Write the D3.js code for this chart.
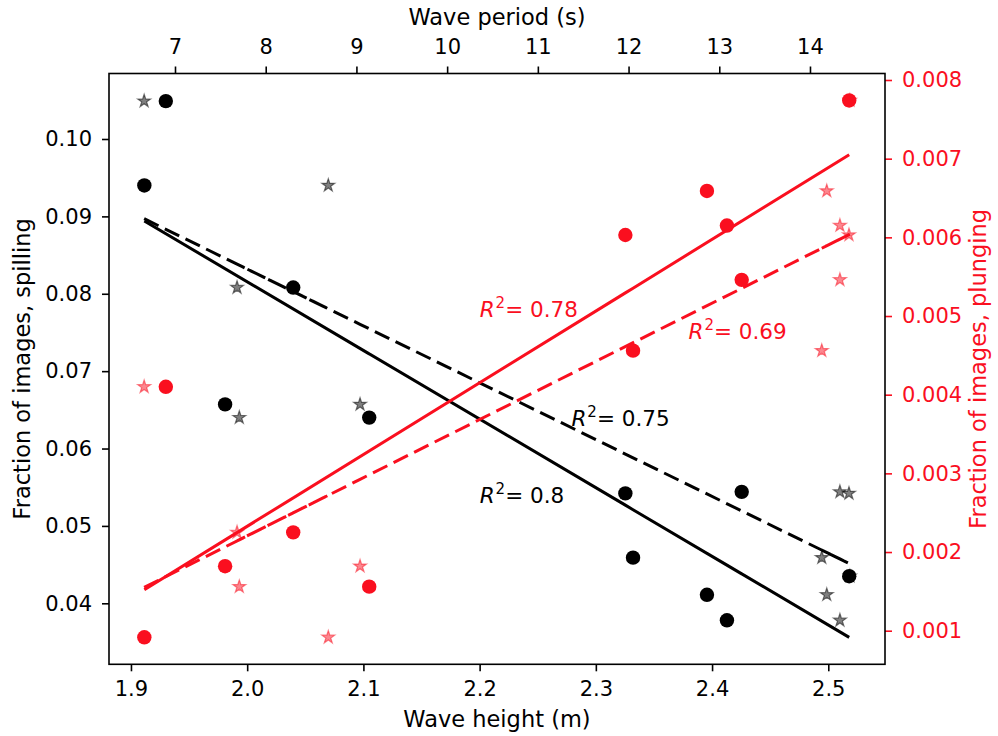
<!DOCTYPE html>
<html>
<head>
<meta charset="utf-8">
<script src="https://cdn.jsdelivr.net/npm/d3@7"></script>
<style>
  html, body { margin: 0; padding: 0; background: #fff; }
  svg { display: block; font-family: "DejaVu Sans", sans-serif; }
</style>
</head>
<body>
<svg id="chart" width="998" height="736"></svg>
<script>
// ---- data (one record per observation, original order) ----
const waveHeight = [1.930, 1.9115, 2.0396, 2.105, 1.981, 2.3254, 2.332, 2.4255, 2.3956, 2.4128, 2.518];
const wavePeriod = [6.66, 8.69, 7.684, 7.709, 9.04, 14.43, 14.13, 14.33, 14.185, 14.33, 14.44];
const fracSpilling = [0.1049, 0.0940, 0.0808, 0.0640, 0.0657, 0.0542, 0.0459, 0.0544, 0.0411, 0.0378, 0.0435];
const fracPlunging = [0.00410, 0.000916, 0.00225, 0.00156, 0.00182, 0.00603, 0.00456, 0.00546, 0.00659, 0.00615, 0.00774];

// linear fits (end points)
const fitHeightX = [1.9115, 2.518];
const fitSpillVsHeight = [0.0894, 0.0356];
const fitPlungeVsHeight = [0.00152, 0.00705];
const fitPeriodX = [6.66, 14.44];
const fitSpillVsPeriod = [0.0897, 0.0451];
const fitPlungeVsPeriod = [0.00155, 0.00604];

const r2Values = ["0.8", "0.75", "0.78", "0.69"];

// tick labels
const heightTicks = [1.9, 2.0, 2.1, 2.2, 2.3, 2.4, 2.5];
const periodTicks = [7, 8, 9, 10, 11, 12, 13, 14];
const spillTicks = [0.04, 0.05, 0.06, 0.07, 0.08, 0.09, 0.10];
const plungeTicks = [0.001, 0.002, 0.003, 0.004, 0.005, 0.006, 0.007, 0.008];

// ---- layout ----
const L = 109, R = 885, T = 73.5, B = 664.3;
const RED = "#fa0f1f";
const svg = d3.select("#chart");

const xH = d3.scaleLinear().domain([1.8811, 2.5488]).range([L, R]);
const xT = d3.scaleLinear().domain([6.2724, 14.827]).range([L, R]);
const yS = d3.scaleLinear().domain([0.032117, 0.108464]).range([B, T]);
const yP = d3.scaleLinear().domain([0.000573, 0.0080826]).range([B, T]);

const idx = d3.range(waveHeight.length);

// ---- axes ----
function styleAxis(g, color) {
  g.select(".domain").remove();
  g.selectAll(".tick line").attr("stroke", color).attr("stroke-width", 1.6);
  g.selectAll(".tick text").attr("fill", color).attr("font-size", 21)
    .attr("font-family", "DejaVu Sans, sans-serif");
}
svg.append("g").attr("transform", `translate(0,${B})`)
  .call(d3.axisBottom(xH).tickValues(heightTicks).tickFormat(d3.format(".1f")).tickSize(7).tickPadding(10))
  .call(g => styleAxis(g, "#000"));
svg.append("g").attr("transform", `translate(0,${T})`)
  .call(d3.axisTop(xT).tickValues(periodTicks).tickFormat(d3.format("d")).tickSize(7).tickPadding(13))
  .call(g => styleAxis(g, "#000"));
svg.append("g").attr("transform", `translate(${L},0)`)
  .call(d3.axisLeft(yS).tickValues(spillTicks).tickFormat(d3.format(".2f")).tickSize(7).tickPadding(10))
  .call(g => styleAxis(g, "#000"));
svg.append("g").attr("transform", `translate(${R},0)`)
  .call(d3.axisRight(yP).tickValues(plungeTicks).tickFormat(d3.format(".3f")).tickSize(7).tickPadding(10))
  .call(g => styleAxis(g, RED));

// ---- fit lines (drawn through observations in their order) ----
function fitLine(xs, xScale, fitX, fitY, yScale, color, dashed) {
  const f = d3.scaleLinear().domain(fitX).range(fitY);
  const line = d3.line().x(i => xScale(xs[i])).y(i => yScale(f(xs[i])));
  svg.append("path").attr("d", line(idx)).attr("fill", "none")
    .attr("stroke", color).attr("stroke-width", 3)
    .attr("stroke-dasharray", dashed ? "16,7" : null);
}
fitLine(waveHeight, xH, fitHeightX, fitSpillVsHeight, yS, "#000", false);
fitLine(wavePeriod, xT, fitPeriodX, fitSpillVsPeriod, yS, "#000", true);
fitLine(waveHeight, xH, fitHeightX, fitPlungeVsHeight, yP, RED, false);
fitLine(wavePeriod, xT, fitPeriodX, fitPlungeVsPeriod, yP, RED, true);

// ---- stars (vs wave period) ----
const star = d3.symbol().type(d3.symbolStar).size(52);
svg.append("g").selectAll("path").data(idx).join("path")
  .attr("d", star).attr("transform", i => `translate(${xT(wavePeriod[i])},${yS(fracSpilling[i])})`)
  .attr("fill", "#000").attr("fill-opacity", 0.5)
  .attr("stroke", "#000").attr("stroke-opacity", 0.5).attr("stroke-width", 1.2);
svg.append("g").selectAll("path").data(idx).join("path")
  .attr("d", star).attr("transform", i => `translate(${xT(wavePeriod[i])},${yP(fracPlunging[i])})`)
  .attr("fill", RED).attr("fill-opacity", 0.5)
  .attr("stroke", RED).attr("stroke-opacity", 0.5).attr("stroke-width", 1.2);

// ---- circles (vs wave height) ----
svg.append("g").selectAll("circle").data(idx).join("circle")
  .attr("cx", i => xH(waveHeight[i])).attr("cy", i => yS(fracSpilling[i])).attr("r", 7.2)
  .attr("fill", "#000");
svg.append("g").selectAll("circle").data(idx).join("circle")
  .attr("cx", i => xH(waveHeight[i])).attr("cy", i => yP(fracPlunging[i])).attr("r", 7.2)
  .attr("fill", RED);

// ---- R^2 annotations ----
const annotations = [
  { v: r2Values[0], x: xH(2.2),   y: yS(0.0530),  color: "#000" },
  { v: r2Values[1], x: xT(11.37), y: yS(0.0629),  color: "#000" },
  { v: r2Values[2], x: xH(2.2),   y: yP(0.00499), color: RED },
  { v: r2Values[3], x: xT(12.66), y: yP(0.00471), color: RED }
];
annotations.forEach(a => {
  const t = svg.append("text").attr("x", a.x).attr("y", a.y)
    .attr("fill", a.color).attr("font-size", 21.5);
  t.append("tspan").attr("font-style", "italic").text("R");
  t.append("tspan").attr("font-size", 15).attr("dy", -9).attr("dx", 1).text("2");
  t.append("tspan").attr("dy", 9).text("= " + a.v);
});

// ---- frame ----
svg.append("rect").attr("x", L).attr("y", T).attr("width", R - L).attr("height", B - T)
  .attr("fill", "none").attr("stroke", "#000").attr("stroke-width", 1.6);

// ---- axis titles ----
svg.append("text").attr("x", (L + R) / 2).attr("y", 727).attr("text-anchor", "middle")
  .attr("font-size", 22.5).text("Wave height (m)");
svg.append("text").attr("x", (L + R) / 2).attr("y", 25).attr("text-anchor", "middle")
  .attr("font-size", 22.5).text("Wave period (s)");
svg.append("text").attr("transform", `translate(30,${(T + B) / 2}) rotate(-90)`)
  .attr("text-anchor", "middle").attr("font-size", 22.5).text("Fraction of images, spilling");
svg.append("text").attr("transform", `translate(986,${(T + B) / 2}) rotate(-90)`)
  .attr("text-anchor", "middle").attr("font-size", 22.5).attr("fill", RED).text("Fraction of images, plunging");
</script>
</body>
</html>
